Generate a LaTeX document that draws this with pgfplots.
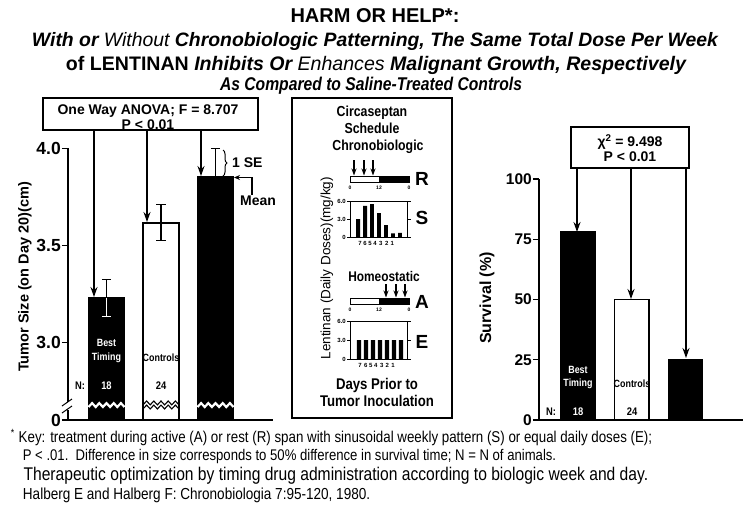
\documentclass[border=0pt]{standalone}
\usepackage{fontspec}
\setmainfont{Liberation Sans}
\newfontfamily\cond{Liberation Sans}[FakeStretch=0.85]
\usepackage{graphicx}
\usepackage{pgfplots}
\pgfplotsset{compat=1.18}
\usetikzlibrary{arrows.meta,decorations.pathreplacing}
\newcommand\fs[1]{\fontsize{#1}{#1}\selectfont}
\tikzset{arr/.style={line width=1.2pt,-{Stealth[length=10pt,width=7pt]}},
         sarr/.style={line width=1.1pt,-{Stealth[length=7pt,width=5pt]}}}
\pgfplotsset{
  bigaxis/.style={scale only axis, axis x line*=bottom, axis y line*=left,
    axis line style={line width=1.4pt,-}, xtick=\empty,
    tick align=outside, major tick length=6pt,
    ytick style={line width=1.2pt,black},
    /pgf/number format/assume math mode=true},
  minaxis/.style={scale only axis, axis line style={line width=1pt},
    ymin=0, ymax=6, ytick={0,3,6}, yticklabels={0,3.0,6.0},
    tick align=outside, major tick length=3pt,
    ytick style={line width=0.8pt,black}, xtick style={draw=none},
    yticklabel style={font=\fs{6}\bfseries, inner sep=1pt},
    xticklabel style={font=\fs{6}\bfseries, inner sep=1pt},
    /pgf/number format/assume math mode=true}
}
\begin{document}
\begin{tikzpicture}
\path[use as bounding box] (0,0) rectangle (750pt,-507pt);

% ---------------- left panel: tumor size ----------------
\begin{axis}[bigaxis, at={(68pt,-420pt)}, anchor=south west,
  width=205pt, height=271.6pt,
  xmin=0.2936, xmax=4.055, ymin=2.6, ymax=4.0,
  ytick={2.6,3,3.5,4}, yticklabels={0,3.0,3.5,4.0},
  yticklabel style={font=\fs{17.5}\bfseries, inner sep=1pt}]
\addplot[ybar, bar width=0.66, bar shift=0pt, fill=black, draw=black, line width=1.5pt] coordinates {(1,3.23)};
\addplot[ybar, bar width=0.66, bar shift=0pt, fill=white, draw=black, line width=1.5pt] coordinates {(2,3.615)};
\addplot[ybar, bar width=0.66, bar shift=0pt, fill=black, draw=black, line width=1.5pt] coordinates {(3,3.852)};
% error bars (1 SE)
\addplot[black, line width=1.3pt] coordinates {(1,3.23) (1,3.325)};
\addplot[black, line width=1.3pt] coordinates {(0.917,3.325) (1.083,3.325)};
\addplot[white, line width=1.3pt] coordinates {(1,3.23) (1,3.135)};
\addplot[white, line width=1.3pt] coordinates {(0.917,3.135) (1.083,3.135)};
\addplot[black, line width=1.3pt] coordinates {(2,3.525) (2,3.71)};
\addplot[black, line width=1.3pt] coordinates {(1.917,3.71) (2.083,3.71)};
\addplot[black, line width=1.3pt] coordinates {(1.917,3.525) (2.083,3.525)};
\addplot[black, line width=1.3pt] coordinates {(3,3.852) (3,3.998)};
\addplot[black, line width=1.3pt] coordinates {(2.917,3.998) (3.083,3.998)};
% axis breaks in the bars
\addplot[white, line width=2.2pt] coordinates {(0.67,2.667) (0.736,2.687) (0.802,2.667) (0.868,2.687) (0.934,2.667) (1.0,2.687) (1.066,2.667) (1.132,2.687) (1.198,2.667) (1.264,2.687) (1.33,2.667)};
\addplot[white, line width=2.2pt] coordinates {(2.67,2.667) (2.736,2.687) (2.802,2.667) (2.868,2.687) (2.934,2.667) (3.0,2.687) (3.066,2.667) (3.132,2.687) (3.198,2.667) (3.264,2.687) (3.33,2.667)};
\addplot[black, line width=1.1pt] coordinates {(1.67,2.678) (1.736,2.698) (1.802,2.678) (1.868,2.698) (1.934,2.678) (2.0,2.698) (2.066,2.678) (2.132,2.698) (2.198,2.678) (2.264,2.698) (2.33,2.678)};
\addplot[black, line width=1.1pt] coordinates {(1.67,2.657) (1.736,2.677) (1.802,2.657) (1.868,2.677) (1.934,2.657) (2.0,2.677) (2.066,2.657) (2.132,2.677) (2.198,2.657) (2.264,2.677) (2.33,2.657)};
\end{axis}

% ---------------- right panel: survival ----------------
\begin{axis}[bigaxis, at={(539pt,-420pt)}, anchor=south west,
  width=204pt, height=241pt,
  xmin=0.2744, xmax=4.07, ymin=0, ymax=100,
  ytick={0,25,50,75,100},
  yticklabel style={font=\fs{15.5}\bfseries, inner sep=1pt}]
\addplot[ybar, bar width=0.633, bar shift=0pt, fill=black, draw=black, line width=1.5pt] coordinates {(1,78)};
\addplot[ybar, bar width=0.633, bar shift=0pt, fill=white, draw=black, line width=1.5pt] coordinates {(2,50)};
\addplot[ybar, bar width=0.633, bar shift=0pt, fill=black, draw=black, line width=1.5pt] coordinates {(3,25)};
\end{axis}

% ---------------- middle: schedule S ----------------
\begin{axis}[minaxis, at={(350pt,-237pt)}, anchor=south west,
  width=58pt, height=36pt, xmin=-0.143, xmax=8.143,
  xtick={1.29,2.0,2.71,3.43,4.24,5.1,5.9}, xticklabels={7,6,5,4,3,2,1}]
\addplot[ybar, bar width=0.571, bar shift=0pt, fill=black, draw=none] coordinates {(1,3.0) (2,5.2) (3,5.5) (4,4.0) (5,2.0) (6,0.6) (7,0.7)};
\end{axis}
% ---------------- middle: schedule E ----------------
\begin{axis}[minaxis, at={(350pt,-359pt)}, anchor=south west,
  width=58pt, height=38pt, xmin=-0.286, xmax=8.0,
  xtick={1.14,1.96,2.67,3.39,4.24,5.04,5.86}, xticklabels={7,6,5,4,3,2,1}]
\addplot[ybar, bar width=0.6, bar shift=0pt, fill=black, draw=none] coordinates {(1,3.0) (2,3.0) (3,3.0) (4,3.0) (5,3.0) (6,3.0) (7,3.0)};
\end{axis}

% ---------------- annotations (pixel coordinates) ----------------
\begin{scope}[x=1pt,y=-1pt]
% titles
\node[anchor=base, inner sep=0] at (375,22) {\fs{20}\bfseries HARM OR HELP*:};
\node[anchor=base, inner sep=0] at (375,46) {\resizebox{686pt}{!}{\fs{18}\itshape{\bfseries With} {\bfseries or} Without {\bfseries Chronobiologic Patterning, The Same Total Dose Per Week}}};
\node[anchor=base, inner sep=0] at (376,70) {\resizebox{620pt}{!}{\fs{18}\bfseries of LENTINAN {\itshape Inhibits Or} {\mdseries\itshape Enhances} {\itshape Malignant Growth, Respectively}}};
\node[anchor=base, inner sep=0] at (371,90) {\resizebox{302pt}{!}{\cond\fs{15}\bfseries\itshape As Compared to Saline-Treated Controls}};

% left panel annotations
\draw[line width=1.2pt] (43,98) rectangle (258,130);
\node[inner sep=0] at (148,111.5) {\fs{14}\bfseries One Way ANOVA; F = 8.707};
\node[inner sep=0] at (148,125) {\fs{14}\bfseries P < 0.01};
\draw[arr] (94,130) -- (94,297);
\draw[arr] (147,130) -- (147,222);
\draw[arr] (201,130) -- (201,176);
\node[rotate=90, inner sep=0] at (25,277) {\fs{14.5}\bfseries Tumor Size (on Day 20)(cm)};
\draw[decorate, decoration={brace, amplitude=4pt}, line width=1pt] (223,150) -- (223,176);
\node[anchor=west, inner sep=0] at (232,163) {\fs{14}\bfseries 1 SE};
\draw[line width=1.1pt, -{Stealth[length=6pt,width=5pt]}] (252,195) -- (252,177.5) -- (234,177.5);
\node[inner sep=0] at (258,201) {\fs{14}\bfseries Mean};
\node[inner sep=0, text=white] at (106.5,343) {\cond\fs{10.5}\bfseries Best};
\node[inner sep=0, text=white] at (106.5,358) {\cond\fs{10.5}\bfseries Timing};
\node[inner sep=0] at (161,358) {\cond\fs{10.5}\bfseries Controls};
\node[inner sep=0] at (80,386) {\cond\fs{11}\bfseries N:};
\node[inner sep=0, text=white] at (106.5,386) {\cond\fs{11}\bfseries 18};
\node[inner sep=0] at (161,386) {\cond\fs{11}\bfseries 24};
\draw[white, line width=3pt] (68,402) -- (68,410);
\draw[line width=1pt] (62,406) -- (72,399);
\draw[line width=1pt] (62,413) -- (72,406);

% right panel annotations
\draw[line width=1.2pt] (571,127) rectangle (689,168);
\node[inner sep=0] at (630,142) {\fs{14}\bfseries χ\textsuperscript{2} = 9.498};
\node[inner sep=0] at (630,157) {\fs{14}\bfseries P < 0.01};
\draw[arr] (577,168) -- (577,232);
\draw[arr] (631,168) -- (631,299);
\draw[arr] (686,168) -- (686,358);
\node[rotate=90, inner sep=0] at (487,298) {\fs{16}\bfseries Survival (\%)};
\node[inner sep=0, text=white] at (578,370) {\cond\fs{10.5}\bfseries Best};
\node[inner sep=0, text=white] at (578,384) {\cond\fs{10.5}\bfseries Timing};
\node[inner sep=0] at (632,384) {\cond\fs{10.5}\bfseries Controls};
\node[inner sep=0] at (551,412) {\cond\fs{11}\bfseries N:};
\node[inner sep=0, text=white] at (578,412) {\cond\fs{11}\bfseries 18};
\node[inner sep=0] at (632,412) {\cond\fs{11}\bfseries 24};

% middle panel
\draw[line width=1.4pt] (292,98) rectangle (452,418);
\node[inner sep=0] at (372,113) {\cond\fs{14.5}\bfseries Circaseptan};
\node[inner sep=0] at (372,128) {\cond\fs{14.5}\bfseries Schedule};
\node[inner sep=0] at (378,147) {\cond\fs{14.5}\bfseries Chronobiologic};
\draw[sarr] (354,160) -- (354,175.5);
\draw[sarr] (364,160) -- (364,175.5);
\draw[sarr] (373,160) -- (373,175.5);
\fill[black] (379,176) rectangle (409,182);
\draw[line width=1pt] (350,176) rectangle (409,182);
\node[inner sep=0] at (350,188) {\fs{5}\bfseries 0};
\node[inner sep=0] at (379,188) {\fs{5}\bfseries 12};
\node[inner sep=0] at (409,188) {\fs{5}\bfseries 0};
\node[inner sep=0] at (422,179) {\fs{19}\bfseries R};
\node[inner sep=0] at (422,218) {\fs{19}\bfseries S};
\node[inner sep=0] at (384,276) {\cond\fs{14}\bfseries Homeostatic};
\draw[sarr] (386,284) -- (386,297.5);
\draw[sarr] (396,284) -- (396,297.5);
\draw[sarr] (405,284) -- (405,297.5);
\fill[black] (379,298) rectangle (409,304);
\draw[line width=1pt] (350,298) rectangle (409,304);
\node[inner sep=0] at (350,310) {\fs{5}\bfseries 0};
\node[inner sep=0] at (379,310) {\fs{5}\bfseries 12};
\node[inner sep=0] at (409,310) {\fs{5}\bfseries 0};
\node[inner sep=0] at (422,302) {\fs{19}\bfseries A};
\node[inner sep=0] at (422,342) {\fs{19}\bfseries E};
\node[rotate=90, inner sep=0] at (327,270) {\fs{13.5} Lentinan (Daily Doses)(mg/kg)};
\node[inner sep=0] at (377,385) {\cond\fs{15.5}\bfseries Days Prior to};
\node[inner sep=0] at (377,401) {\cond\fs{15.5}\bfseries Tumor Inoculation};

% footnotes
\node[anchor=base west, inner sep=0] at (7,442) {\resizebox{645pt}{!}{\cond\fs{12} \textsuperscript{*} Key: treatment during active (A) or rest (R) span with sinusoidal weekly pattern (S) or equal daily doses (E);}};
\node[anchor=base west, inner sep=0] at (19,460) {\resizebox{537pt}{!}{\cond\fs{12} P < .01.\ \ Difference in size corresponds to 50\% difference in survival time; N = N of animals.}};
\node[anchor=base west, inner sep=0] at (19,480) {\resizebox{629pt}{!}{\cond\fs{15} Therapeutic optimization by timing drug administration according to biologic week and day.}};
\node[anchor=base west, inner sep=0] at (19,499) {\resizebox{351pt}{!}{\cond\fs{12} Halberg E and Halberg F: Chronobiologia 7:95-120, 1980.}};
\end{scope}
\end{tikzpicture}
\end{document}
